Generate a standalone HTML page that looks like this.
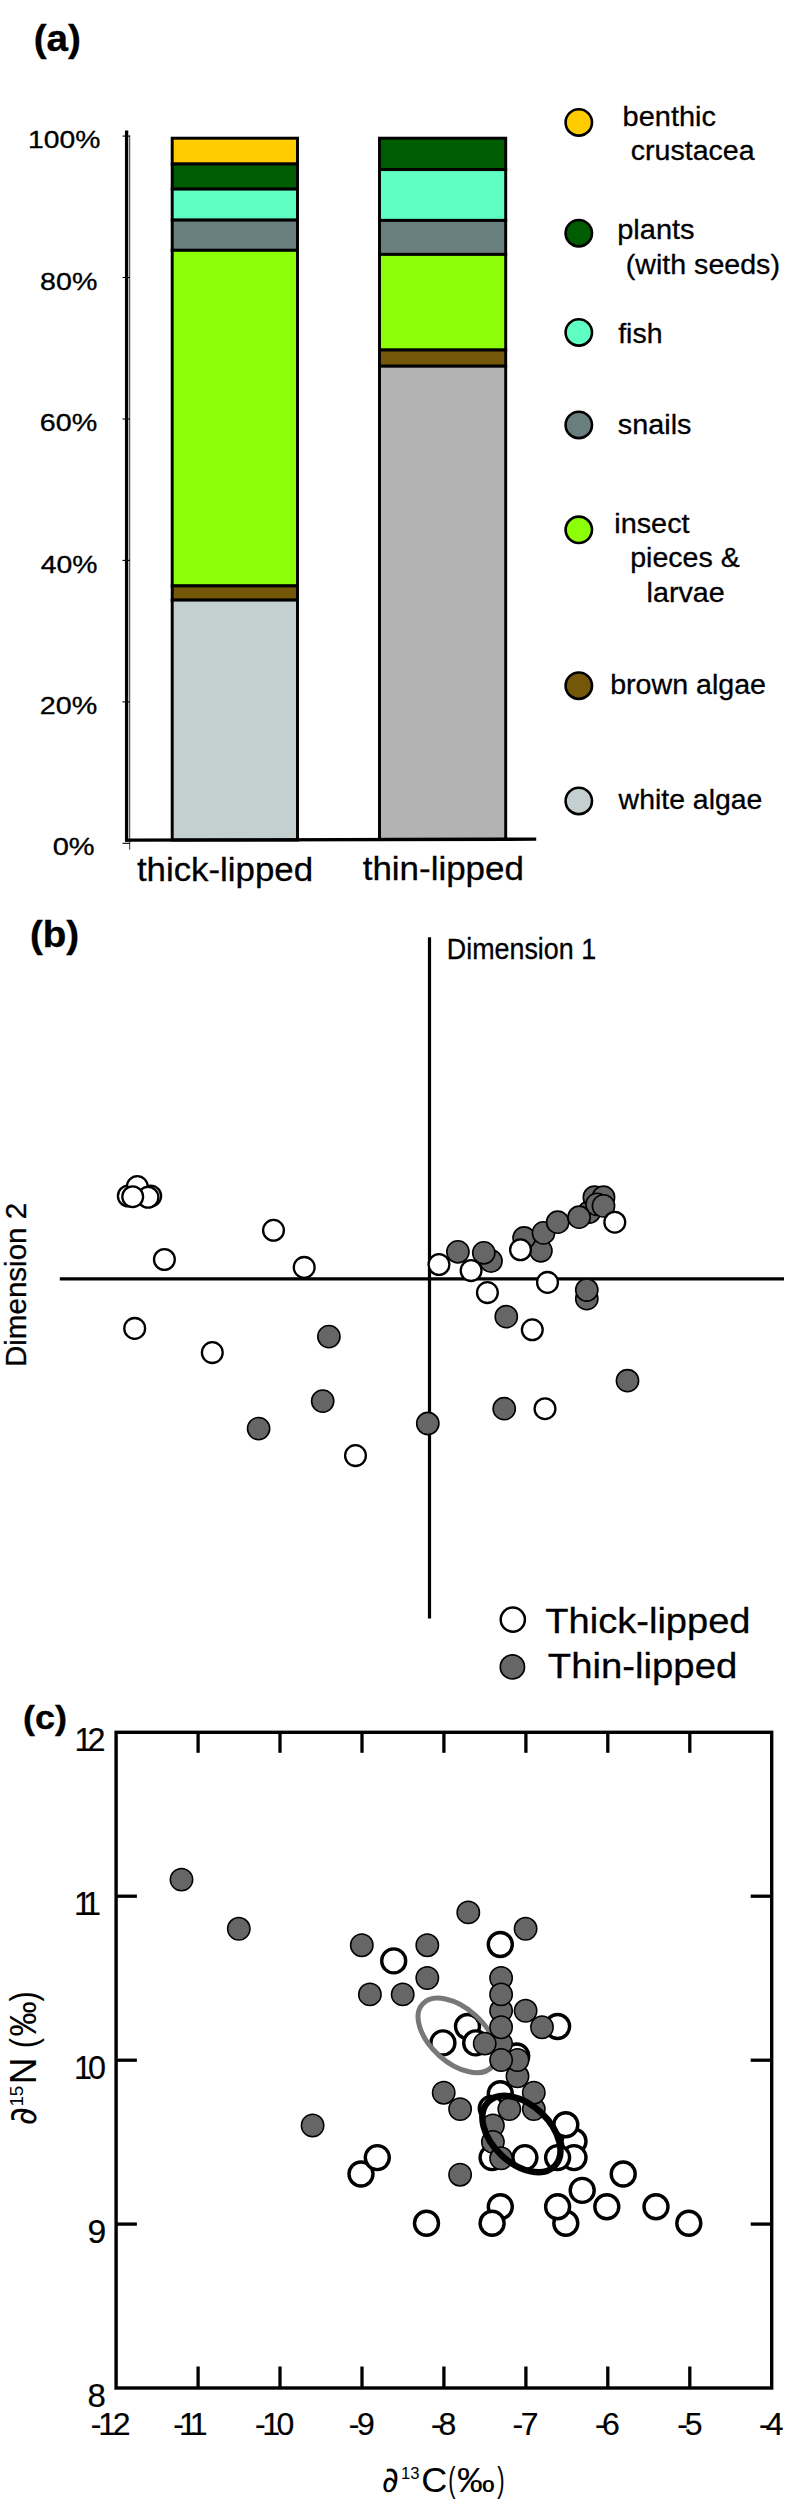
<!DOCTYPE html>
<html lang="en">
<head>
<meta charset="utf-8">
<title>Figure: diet composition, MDS ordination and stable isotopes</title>
<style>
html,body{margin:0;padding:0;background:#fff;}
svg{display:block;font-family:"Liberation Sans", sans-serif;fill:#000;}
</style>
</head>
<body>
<svg width="785" height="2520" viewBox="0 0 785 2520">
<rect x="0" y="0" width="785" height="2520" fill="#fff"/>
<g id="panel-a">
<text x="33.7" y="51.2" font-size="37.3" font-weight="bold" textLength="47.2" lengthAdjust="spacingAndGlyphs" stroke="#000" stroke-width="0.35">(a)</text>
<rect x="172.2" y="138.2" width="125.3" height="25.8" fill="#ffcc00" stroke="#000" stroke-width="2.95"/>
<rect x="172.2" y="164.0" width="125.3" height="25.1" fill="#005c00" stroke="#000" stroke-width="2.95"/>
<rect x="172.2" y="189.1" width="125.3" height="31.0" fill="#5fffc3" stroke="#000" stroke-width="2.95"/>
<rect x="172.2" y="220.1" width="125.3" height="30.2" fill="#697f7f" stroke="#000" stroke-width="2.95"/>
<rect x="172.2" y="250.3" width="125.3" height="335.6" fill="#8cff08" stroke="#000" stroke-width="2.95"/>
<rect x="172.2" y="585.9" width="125.3" height="14.2" fill="#75570a" stroke="#000" stroke-width="2.95"/>
<rect x="172.2" y="600.1" width="125.3" height="239.9" fill="#c4cfcf" stroke="#000" stroke-width="2.95"/>
<rect x="379.5" y="138.2" width="126.2" height="31.4" fill="#005c00" stroke="#000" stroke-width="2.95"/>
<rect x="379.5" y="169.6" width="126.2" height="50.8" fill="#5fffc3" stroke="#000" stroke-width="2.95"/>
<rect x="379.5" y="220.4" width="126.2" height="34.0" fill="#697f7f" stroke="#000" stroke-width="2.95"/>
<rect x="379.5" y="254.4" width="126.2" height="95.6" fill="#8cff08" stroke="#000" stroke-width="2.95"/>
<rect x="379.5" y="350.0" width="126.2" height="16.2" fill="#75570a" stroke="#000" stroke-width="2.95"/>
<rect x="379.5" y="366.2" width="126.2" height="473.2" fill="#b3b3b3" stroke="#000" stroke-width="2.95"/>
<line x1="126.6" y1="130.4" x2="126.6" y2="841.6" stroke="#000" stroke-width="3.3"/>
<line x1="129.7" y1="135.5" x2="129.7" y2="849.7" stroke="#000" stroke-width="0.8"/>
<line x1="125" y1="840.1" x2="536.2" y2="839.2" stroke="#000" stroke-width="3.3"/>
<line x1="122.5" y1="843.3" x2="130" y2="843.3" stroke="#000" stroke-width="1.1"/>
<line x1="122.5" y1="701.9" x2="130" y2="701.9" stroke="#000" stroke-width="1.1"/>
<line x1="122.5" y1="560.4" x2="130" y2="560.4" stroke="#000" stroke-width="1.1"/>
<line x1="122.5" y1="419.0" x2="130" y2="419.0" stroke="#000" stroke-width="1.1"/>
<line x1="122.5" y1="277.5" x2="130" y2="277.5" stroke="#000" stroke-width="1.1"/>
<line x1="122.5" y1="136.1" x2="130" y2="136.1" stroke="#000" stroke-width="1.1"/>
<text transform="translate(27.98,148.1) scale(1.1892,1)" font-size="23.8" stroke="#000" stroke-width="0.3">100%</text>
<text transform="translate(40.08,289.5) scale(1.2020,1)" font-size="23.8" stroke="#000" stroke-width="0.3">80%</text>
<text transform="translate(39.86,430.8) scale(1.2067,1)" font-size="23.8" stroke="#000" stroke-width="0.3">60%</text>
<text transform="translate(40.66,572.5) scale(1.1897,1)" font-size="23.8" stroke="#000" stroke-width="0.3">40%</text>
<text transform="translate(39.86,713.6) scale(1.2067,1)" font-size="23.8" stroke="#000" stroke-width="0.3">20%</text>
<text transform="translate(52.64,855.3) scale(1.2198,1)" font-size="23.8" stroke="#000" stroke-width="0.3">0%</text>
<text transform="translate(136.88,880.5) scale(1.0375,1)" font-size="33.6" stroke="#000" stroke-width="0.3">thick-lipped</text>
<text transform="translate(362.68,879.6) scale(1.0402,1)" font-size="33.6" stroke="#000" stroke-width="0.3">thin-lipped</text>
<circle cx="578.8" cy="122.4" r="13.2" fill="#ffcc00" stroke="#000" stroke-width="2.6"/>
<circle cx="578.8" cy="233.2" r="13.2" fill="#005c00" stroke="#000" stroke-width="2.6"/>
<circle cx="578.8" cy="332.4" r="13.2" fill="#5fffc3" stroke="#000" stroke-width="2.6"/>
<circle cx="578.8" cy="424.9" r="13.2" fill="#697f7f" stroke="#000" stroke-width="2.6"/>
<circle cx="578.8" cy="529.8" r="13.2" fill="#8cff08" stroke="#000" stroke-width="2.6"/>
<circle cx="578.8" cy="685.7" r="13.2" fill="#75570a" stroke="#000" stroke-width="2.6"/>
<circle cx="578.8" cy="800.9" r="13.2" fill="#c4cfcf" stroke="#000" stroke-width="2.6"/>
<text transform="translate(622.62,125.6) scale(1.0427,1)" font-size="27.8" stroke="#000" stroke-width="0.3">benthic</text>
<text transform="translate(630.79,159.7) scale(1.0274,1)" font-size="27.8" stroke="#000" stroke-width="0.3">crustacea</text>
<text transform="translate(617.21,238.9) scale(1.0438,1)" font-size="27.8" stroke="#000" stroke-width="0.3">plants</text>
<text transform="translate(625.81,273.5) scale(1.0289,1)" font-size="27.8" stroke="#000" stroke-width="0.3">(with seeds)</text>
<text transform="translate(618.17,342.5) scale(1.0243,1)" font-size="27.8" stroke="#000" stroke-width="0.3">fish</text>
<text transform="translate(617.81,433.8) scale(1.0366,1)" font-size="27.8" stroke="#000" stroke-width="0.3">snails</text>
<text transform="translate(614.25,533.2) scale(1.0377,1)" font-size="27.8" stroke="#000" stroke-width="0.3">insect</text>
<text transform="translate(630.14,566.9) scale(1.0279,1)" font-size="27.8" stroke="#000" stroke-width="0.3">pieces &amp;</text>
<text transform="translate(646.56,601.5) scale(1.0327,1)" font-size="27.8" stroke="#000" stroke-width="0.3">larvae</text>
<text transform="translate(610.14,694.1) scale(1.0293,1)" font-size="27.8" stroke="#000" stroke-width="0.3">brown algae</text>
<text transform="translate(618.60,809.4) scale(1.0228,1)" font-size="27.8" stroke="#000" stroke-width="0.3">white algae</text>
</g>
<g id="panel-b">
<text x="29.9" y="946.9" font-size="36.3" font-weight="bold" textLength="49.2" lengthAdjust="spacingAndGlyphs" stroke="#000" stroke-width="0.35">(b)</text>
<line x1="429.5" y1="937.3" x2="429.5" y2="1618.5" stroke="#000" stroke-width="3.2"/>
<line x1="59.8" y1="1278.9" x2="784" y2="1278.9" stroke="#000" stroke-width="3.2"/>
<text transform="translate(446.78,959.3) scale(0.9206,1)" font-size="29.2" stroke="#000" stroke-width="0.3">Dimension 1</text>
<text transform="translate(25.9,1367.04) rotate(-90) scale(0.9983,1)" font-size="29.6" stroke="#000" stroke-width="0.3">Dimension 2</text>
<circle cx="128.3" cy="1196" r="10.4" fill="#fff" stroke="#000" stroke-width="2.3"/>
<circle cx="150.7" cy="1196" r="10.4" fill="#fff" stroke="#000" stroke-width="2.3"/>
<circle cx="137.3" cy="1186.6" r="10.4" fill="#fff" stroke="#000" stroke-width="2.3"/>
<circle cx="148" cy="1197.3" r="10.4" fill="#fff" stroke="#000" stroke-width="2.3"/>
<circle cx="132.7" cy="1196.7" r="10.4" fill="#fff" stroke="#000" stroke-width="2.3"/>
<circle cx="164.4" cy="1259.5" r="10.4" fill="#fff" stroke="#000" stroke-width="2.3"/>
<circle cx="273.5" cy="1230.3" r="10.4" fill="#fff" stroke="#000" stroke-width="2.3"/>
<circle cx="304.2" cy="1267.4" r="10.4" fill="#fff" stroke="#000" stroke-width="2.3"/>
<circle cx="134.7" cy="1328.4" r="10.4" fill="#fff" stroke="#000" stroke-width="2.3"/>
<circle cx="212.3" cy="1352.6" r="10.4" fill="#fff" stroke="#000" stroke-width="2.3"/>
<circle cx="355.5" cy="1455.6" r="10.4" fill="#fff" stroke="#000" stroke-width="2.3"/>
<circle cx="328.9" cy="1336.6" r="11.1" fill="#666" stroke="#000" stroke-width="1.6"/>
<circle cx="322.7" cy="1401.1" r="11.1" fill="#666" stroke="#000" stroke-width="1.6"/>
<circle cx="258.6" cy="1428.6" r="11.1" fill="#666" stroke="#000" stroke-width="1.6"/>
<circle cx="457.9" cy="1251.8" r="11.1" fill="#666" stroke="#000" stroke-width="1.6"/>
<circle cx="491.0" cy="1261.0" r="11.1" fill="#666" stroke="#000" stroke-width="1.6"/>
<circle cx="483.8" cy="1252.8" r="11.1" fill="#666" stroke="#000" stroke-width="1.6"/>
<circle cx="540.9" cy="1250.8" r="11.1" fill="#666" stroke="#000" stroke-width="1.6"/>
<circle cx="524.1" cy="1238.0" r="11.1" fill="#666" stroke="#000" stroke-width="1.6"/>
<circle cx="543.5" cy="1232.9" r="11.1" fill="#666" stroke="#000" stroke-width="1.6"/>
<circle cx="557.7" cy="1222.2" r="11.1" fill="#666" stroke="#000" stroke-width="1.6"/>
<circle cx="589.3" cy="1212.0" r="11.1" fill="#666" stroke="#000" stroke-width="1.6"/>
<circle cx="579.1" cy="1217.2" r="11.1" fill="#666" stroke="#000" stroke-width="1.6"/>
<circle cx="594.4" cy="1197.2" r="11.1" fill="#666" stroke="#000" stroke-width="1.6"/>
<circle cx="603.5" cy="1197.2" r="11.1" fill="#666" stroke="#000" stroke-width="1.6"/>
<circle cx="597.0" cy="1204.4" r="11.1" fill="#666" stroke="#000" stroke-width="1.6"/>
<circle cx="603.5" cy="1205.9" r="11.1" fill="#666" stroke="#000" stroke-width="1.6"/>
<circle cx="586.8" cy="1298.7" r="11.1" fill="#666" stroke="#000" stroke-width="1.6"/>
<circle cx="586.8" cy="1290.0" r="11.1" fill="#666" stroke="#000" stroke-width="1.6"/>
<circle cx="506.3" cy="1316.7" r="11.1" fill="#666" stroke="#000" stroke-width="1.6"/>
<circle cx="627.5" cy="1380.7" r="11.1" fill="#666" stroke="#000" stroke-width="1.6"/>
<circle cx="504.2" cy="1408.7" r="11.1" fill="#666" stroke="#000" stroke-width="1.6"/>
<circle cx="427.8" cy="1423.5" r="11.1" fill="#666" stroke="#000" stroke-width="1.6"/>
<circle cx="439.0" cy="1264.5" r="10.4" fill="#fff" stroke="#000" stroke-width="2.3"/>
<circle cx="471.1" cy="1270.6000000000001" r="10.4" fill="#fff" stroke="#000" stroke-width="2.3"/>
<circle cx="520.5" cy="1249.8" r="10.4" fill="#fff" stroke="#000" stroke-width="2.3"/>
<circle cx="614.8" cy="1222.2" r="10.4" fill="#fff" stroke="#000" stroke-width="2.3"/>
<circle cx="487.4" cy="1292.6000000000001" r="10.4" fill="#fff" stroke="#000" stroke-width="2.3"/>
<circle cx="547.5" cy="1282.4" r="10.4" fill="#fff" stroke="#000" stroke-width="2.3"/>
<circle cx="532.3" cy="1329.8" r="10.4" fill="#fff" stroke="#000" stroke-width="2.3"/>
<circle cx="545.0" cy="1408.7" r="10.4" fill="#fff" stroke="#000" stroke-width="2.3"/>
<circle cx="512.8" cy="1619.6" r="12.1" fill="#fff" stroke="#000" stroke-width="2.5"/>
<circle cx="512.4" cy="1666.9" r="12.1" fill="#666" stroke="#000" stroke-width="1.7"/>
<text transform="translate(545.34,1632.5) scale(1.0721,1)" font-size="35.5" stroke="#000" stroke-width="0.3">Thick-lipped</text>
<text transform="translate(547.74,1678.0) scale(1.0793,1)" font-size="35.5" stroke="#000" stroke-width="0.3">Thin-lipped</text>
</g>
<g id="panel-c">
<text x="22.9" y="1728.9" font-size="32.7" font-weight="bold" textLength="44" lengthAdjust="spacingAndGlyphs" stroke="#000" stroke-width="0.35">(c)</text>
<rect x="116.1" y="1732.3" width="655.6" height="655.7" fill="none" stroke="#000" stroke-width="3.4"/>
<line x1="198.1" y1="1732.3" x2="198.1" y2="1752.8" stroke="#000" stroke-width="3.3"/>
<line x1="198.1" y1="2388" x2="198.1" y2="2366.5" stroke="#000" stroke-width="3.3"/>
<line x1="280.0" y1="1732.3" x2="280.0" y2="1752.8" stroke="#000" stroke-width="3.3"/>
<line x1="280.0" y1="2388" x2="280.0" y2="2366.5" stroke="#000" stroke-width="3.3"/>
<line x1="362.0" y1="1732.3" x2="362.0" y2="1752.8" stroke="#000" stroke-width="3.3"/>
<line x1="362.0" y1="2388" x2="362.0" y2="2366.5" stroke="#000" stroke-width="3.3"/>
<line x1="443.9" y1="1732.3" x2="443.9" y2="1752.8" stroke="#000" stroke-width="3.3"/>
<line x1="443.9" y1="2388" x2="443.9" y2="2366.5" stroke="#000" stroke-width="3.3"/>
<line x1="525.9" y1="1732.3" x2="525.9" y2="1752.8" stroke="#000" stroke-width="3.3"/>
<line x1="525.9" y1="2388" x2="525.9" y2="2366.5" stroke="#000" stroke-width="3.3"/>
<line x1="607.8" y1="1732.3" x2="607.8" y2="1752.8" stroke="#000" stroke-width="3.3"/>
<line x1="607.8" y1="2388" x2="607.8" y2="2366.5" stroke="#000" stroke-width="3.3"/>
<line x1="689.8" y1="1732.3" x2="689.8" y2="1752.8" stroke="#000" stroke-width="3.3"/>
<line x1="689.8" y1="2388" x2="689.8" y2="2366.5" stroke="#000" stroke-width="3.3"/>
<line x1="116.1" y1="1896.2" x2="136.9" y2="1896.2" stroke="#000" stroke-width="3.3"/>
<line x1="771.7" y1="1896.2" x2="750.7" y2="1896.2" stroke="#000" stroke-width="3.3"/>
<line x1="116.1" y1="2060.2" x2="136.9" y2="2060.2" stroke="#000" stroke-width="3.3"/>
<line x1="771.7" y1="2060.2" x2="750.7" y2="2060.2" stroke="#000" stroke-width="3.3"/>
<line x1="116.1" y1="2224.1" x2="136.9" y2="2224.1" stroke="#000" stroke-width="3.3"/>
<line x1="771.7" y1="2224.1" x2="750.7" y2="2224.1" stroke="#000" stroke-width="3.3"/>
<text x="74.38" y="1751.0" font-size="32.3" letter-spacing="-4.72" stroke="#000" stroke-width="0.2">12</text>
<text x="74.08" y="1915.0" font-size="32.3" letter-spacing="-6.55" stroke="#000" stroke-width="0.2">11</text>
<text x="74.08" y="2078.8" font-size="32.3" letter-spacing="-4.12" stroke="#000" stroke-width="0.2">10</text>
<text transform="translate(87.40,2243.4) scale(1.0443,1)" font-size="32.3" stroke="#000" stroke-width="0.2">9</text>
<text transform="translate(87.60,2407.3) scale(1.0210,1)" font-size="32.3" stroke="#000" stroke-width="0.2">8</text>
<text x="90.76" y="2434.8" font-size="32.0" letter-spacing="-3.25" stroke="#000" stroke-width="0.2">-12</text>
<text x="173.16" y="2434.8" font-size="32.0" letter-spacing="-4.74" stroke="#000" stroke-width="0.2">-11</text>
<text x="255.06" y="2434.8" font-size="32.0" letter-spacing="-3.45" stroke="#000" stroke-width="0.2">-10</text>
<text x="348.86" y="2434.8" font-size="32.0" letter-spacing="-2.52" stroke="#000" stroke-width="0.2">-9</text>
<text x="430.96" y="2434.8" font-size="32.0" letter-spacing="-3.10" stroke="#000" stroke-width="0.2">-8</text>
<text x="512.56" y="2434.8" font-size="32.0" letter-spacing="-2.36" stroke="#000" stroke-width="0.2">-7</text>
<text x="595.06" y="2434.8" font-size="32.0" letter-spacing="-3.60" stroke="#000" stroke-width="0.2">-6</text>
<text x="677.26" y="2434.8" font-size="32.0" letter-spacing="-3.28" stroke="#000" stroke-width="0.2">-5</text>
<text x="758.96" y="2434.8" font-size="32.0" letter-spacing="-3.88" stroke="#000" stroke-width="0.2">-4</text>
<text transform="translate(381.64,2491.6) scale(0.9241,1)" font-size="35.6" font-family="DejaVu Sans, sans-serif">∂</text>
<text transform="translate(401.05,2478.9) scale(1.0657,1)" font-size="15.6">13</text>
<text transform="translate(421.20,2491.6) scale(1.0154,1)" font-size="35.5">C</text>
<text transform="translate(448.34,2491.6) scale(0.6117,1)" font-size="35.5">(</text>
<text transform="translate(457.06,2491.6) scale(1.0671,1)" font-size="35.5">‰</text>
<text transform="translate(497.23,2491.6) scale(0.6224,1)" font-size="35.5">)</text>
<text transform="translate(35.7,2125.18) rotate(-90) scale(0.9354,1)" font-size="37.7" font-family="DejaVu Sans, sans-serif">∂</text>
<text transform="translate(23.400000000000002,2106.61) rotate(-90) scale(0.9892,1)" font-size="19.0">15</text>
<text transform="translate(35.7,2084.15) rotate(-90) scale(0.9987,1)" font-size="37.0">N</text>
<text transform="translate(35.7,2048.23) rotate(-90) scale(0.8340,1)" font-size="37.0">(</text>
<text transform="translate(35.7,2036.57) rotate(-90) scale(0.9495,1)" font-size="37.0">‰</text>
<text transform="translate(35.7,2001.43) rotate(-90) scale(0.8237,1)" font-size="37.0">)</text>
<circle cx="393.7" cy="1960.9" r="12" fill="#fff" stroke="#000" stroke-width="3.4"/>
<circle cx="500.3" cy="1944.5" r="12" fill="#fff" stroke="#000" stroke-width="3.4"/>
<circle cx="467.5" cy="2026.5" r="12" fill="#fff" stroke="#000" stroke-width="3.4"/>
<circle cx="442.9" cy="2042.9" r="12" fill="#fff" stroke="#000" stroke-width="3.4"/>
<circle cx="475.7" cy="2042.9" r="12" fill="#fff" stroke="#000" stroke-width="3.4"/>
<circle cx="557.6" cy="2026.5" r="12" fill="#fff" stroke="#000" stroke-width="3.4"/>
<circle cx="516.7" cy="2056.0" r="12" fill="#fff" stroke="#000" stroke-width="3.4"/>
<circle cx="500.3" cy="2093.7" r="12" fill="#fff" stroke="#000" stroke-width="3.4"/>
<circle cx="491.3" cy="2108.4" r="12" fill="#fff" stroke="#000" stroke-width="3.4"/>
<circle cx="574.0" cy="2141.2" r="12" fill="#fff" stroke="#000" stroke-width="3.4"/>
<circle cx="565.8" cy="2124.8" r="12" fill="#fff" stroke="#000" stroke-width="3.4"/>
<circle cx="574.0" cy="2157.6" r="12" fill="#fff" stroke="#000" stroke-width="3.4"/>
<circle cx="557.6" cy="2157.6" r="12" fill="#fff" stroke="#000" stroke-width="3.4"/>
<circle cx="524.9" cy="2157.6" r="12" fill="#fff" stroke="#000" stroke-width="3.4"/>
<circle cx="492.1" cy="2157.6" r="12" fill="#fff" stroke="#000" stroke-width="3.4"/>
<circle cx="361.0" cy="2174.0" r="12" fill="#fff" stroke="#000" stroke-width="3.4"/>
<circle cx="377.3" cy="2157.6" r="12" fill="#fff" stroke="#000" stroke-width="3.4"/>
<circle cx="426.5" cy="2223.2" r="12" fill="#fff" stroke="#000" stroke-width="3.4"/>
<circle cx="500.3" cy="2206.8" r="12" fill="#fff" stroke="#000" stroke-width="3.4"/>
<circle cx="492.1" cy="2223.2" r="12" fill="#fff" stroke="#000" stroke-width="3.4"/>
<circle cx="565.8" cy="2223.2" r="12" fill="#fff" stroke="#000" stroke-width="3.4"/>
<circle cx="557.6" cy="2206.8" r="12" fill="#fff" stroke="#000" stroke-width="3.4"/>
<circle cx="582.2" cy="2190.4" r="12" fill="#fff" stroke="#000" stroke-width="3.4"/>
<circle cx="606.8" cy="2206.8" r="12" fill="#fff" stroke="#000" stroke-width="3.4"/>
<circle cx="623.2" cy="2174.0" r="12" fill="#fff" stroke="#000" stroke-width="3.4"/>
<circle cx="656.0" cy="2206.8" r="12" fill="#fff" stroke="#000" stroke-width="3.4"/>
<circle cx="688.8" cy="2223.2" r="12" fill="#fff" stroke="#000" stroke-width="3.4"/>
<ellipse cx="457.3" cy="2035.4" rx="46.8" ry="27.1" transform="rotate(42 457.3 2035.4)" fill="none" stroke="#787878" stroke-width="5"/>
<circle cx="181.5" cy="1879.6" r="11.2" fill="#666" stroke="#000" stroke-width="1.5"/>
<circle cx="238.8" cy="1928.8" r="11.2" fill="#666" stroke="#000" stroke-width="1.5"/>
<circle cx="361.8" cy="1945.2" r="11.2" fill="#666" stroke="#000" stroke-width="1.5"/>
<circle cx="369.9" cy="1994.4" r="11.2" fill="#666" stroke="#000" stroke-width="1.5"/>
<circle cx="402.7" cy="1994.4" r="11.2" fill="#666" stroke="#000" stroke-width="1.5"/>
<circle cx="427.3" cy="1945.2" r="11.2" fill="#666" stroke="#000" stroke-width="1.5"/>
<circle cx="427.3" cy="1978.0" r="11.2" fill="#666" stroke="#000" stroke-width="1.5"/>
<circle cx="468.3" cy="1912.4" r="11.2" fill="#666" stroke="#000" stroke-width="1.5"/>
<circle cx="525.6" cy="1928.8" r="11.2" fill="#666" stroke="#000" stroke-width="1.5"/>
<circle cx="312.6" cy="2125.5" r="11.2" fill="#666" stroke="#000" stroke-width="1.5"/>
<circle cx="460.1" cy="2174.7" r="11.2" fill="#666" stroke="#000" stroke-width="1.5"/>
<circle cx="501.1" cy="1978.0" r="11.2" fill="#666" stroke="#000" stroke-width="1.5"/>
<circle cx="501.1" cy="2010.8" r="11.2" fill="#666" stroke="#000" stroke-width="1.5"/>
<circle cx="501.1" cy="1994.4" r="11.2" fill="#666" stroke="#000" stroke-width="1.5"/>
<circle cx="501.1" cy="2043.6" r="11.2" fill="#666" stroke="#000" stroke-width="1.5"/>
<circle cx="501.1" cy="2027.2" r="11.2" fill="#666" stroke="#000" stroke-width="1.5"/>
<circle cx="525.6" cy="2010.8" r="11.2" fill="#666" stroke="#000" stroke-width="1.5"/>
<circle cx="542.0" cy="2027.2" r="11.2" fill="#666" stroke="#000" stroke-width="1.5"/>
<circle cx="484.7" cy="2043.6" r="11.2" fill="#666" stroke="#000" stroke-width="1.5"/>
<circle cx="517.5" cy="2076.3" r="11.2" fill="#666" stroke="#000" stroke-width="1.5"/>
<circle cx="517.5" cy="2060.0" r="11.2" fill="#666" stroke="#000" stroke-width="1.5"/>
<circle cx="501.1" cy="2060.0" r="11.2" fill="#666" stroke="#000" stroke-width="1.5"/>
<circle cx="443.7" cy="2092.7" r="11.2" fill="#666" stroke="#000" stroke-width="1.5"/>
<circle cx="460.1" cy="2109.1" r="11.2" fill="#666" stroke="#000" stroke-width="1.5"/>
<circle cx="533.8" cy="2109.1" r="11.2" fill="#666" stroke="#000" stroke-width="1.5"/>
<circle cx="533.8" cy="2092.7" r="11.2" fill="#666" stroke="#000" stroke-width="1.5"/>
<circle cx="509.3" cy="2109.1" r="11.2" fill="#666" stroke="#000" stroke-width="1.5"/>
<circle cx="492.9" cy="2125.5" r="11.2" fill="#666" stroke="#000" stroke-width="1.5"/>
<circle cx="492.9" cy="2141.9" r="11.2" fill="#666" stroke="#000" stroke-width="1.5"/>
<circle cx="501.1" cy="2158.3" r="11.2" fill="#666" stroke="#000" stroke-width="1.5"/>
<ellipse cx="521.4" cy="2134" rx="46.2" ry="29.1" transform="rotate(43.6 521.4 2134)" fill="none" stroke="#000" stroke-width="6.4"/>
</g>
</svg>
</body>
</html>
